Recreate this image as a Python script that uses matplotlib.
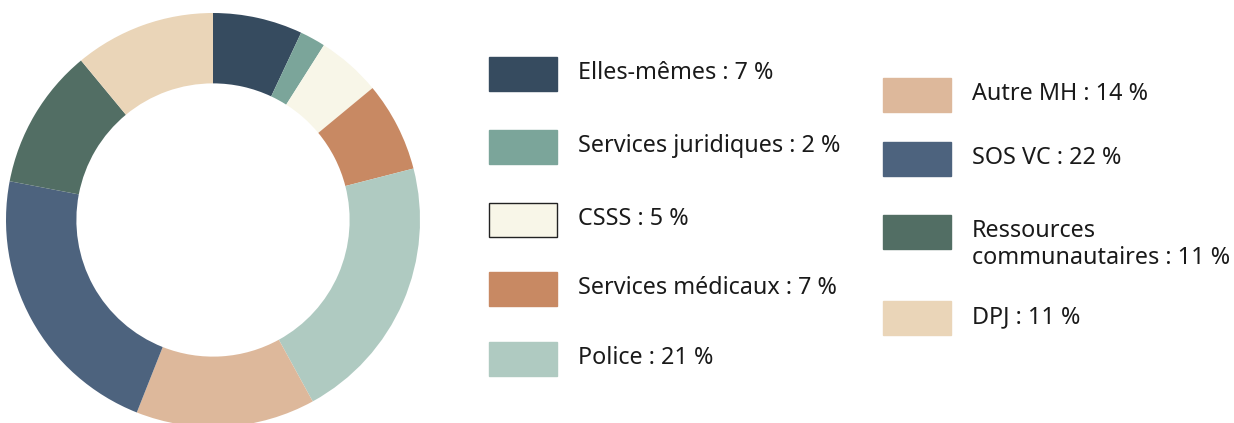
import matplotlib
matplotlib.use('Agg')
import matplotlib.pyplot as plt
from matplotlib.patches import Rectangle

# donnees du graphique
categories = ["Elles-mêmes", "Services juridiques", "CSSS", "Services médicaux",
              "Police", "Autre MH", "SOS VC", "Ressources\ncommunautaires", "DPJ"]
valeurs = [7, 2, 5, 7, 21, 14, 22, 11, 11]
couleurs = ["#364b5f", "#7ba59a", "#f8f6e8", "#c88963", "#afcac1",
            "#ddb89b", "#4d637e", "#526e64", "#ead5b8"]

W, H = 1234, 423
fig = plt.figure(figsize=(W / 100, H / 100), dpi=100)

# anneau
ax = fig.add_axes([6 / W, -4 / H, 414 / W, 414 / H])
ax.pie(valeurs, colors=couleurs, startangle=90, counterclock=False,
       wedgeprops=dict(width=0.34, linewidth=0))
ax.set_xlim(-1, 1)
ax.set_ylim(-1, 1)
ax.set_aspect('equal')

# legende dessinee a la main, en pixels
leg = fig.add_axes([0, 0, 1, 1])
leg.set_xlim(0, W)
leg.set_ylim(H, 0)
leg.axis('off')

colonnes = [(489, 578, [74, 147, 220, 289, 359]),
            (883, 972, [95, 159, 232, 318])]
i = 0
for x_patch, x_texte, centres in colonnes:
    for yc in centres:
        bord = "#222222" if couleurs[i] == "#f8f6e8" else couleurs[i]
        leg.add_patch(Rectangle((x_patch, yc - 17), 68, 34, facecolor=couleurs[i],
                                edgecolor=bord, linewidth=1))
        texte = "%s : %d %%" % (categories[i], valeurs[i])
        for k, ligne in enumerate(texte.split("\n")):
            leg.text(x_texte, yc + 5 + 27.5 * k, ligne, fontsize=16.8,
                     family="Noto Sans", color="#1a1a1a", va="baseline", ha="left")
        i += 1

plt.savefig("out.png", dpi=100)
